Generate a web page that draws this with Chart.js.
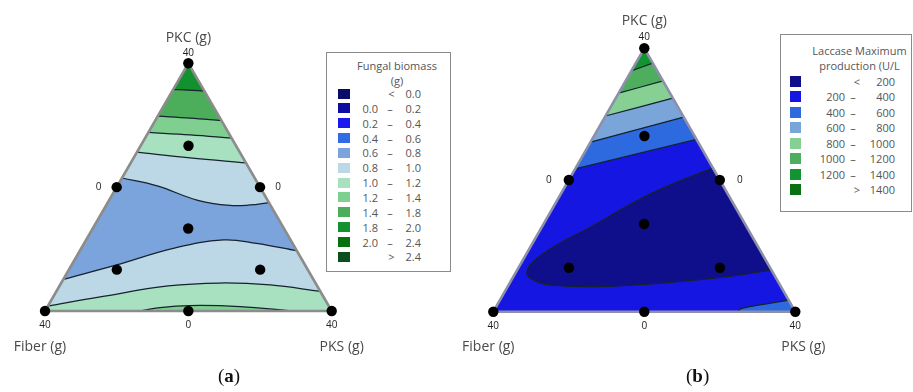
<!DOCTYPE html>
<html>
<head>
<meta charset="utf-8">
<title>Ternary contour plots</title>
<script src="https://cdn.jsdelivr.net/npm/chart.js@4.4.1/dist/chart.umd.min.js"></script>
<style>
  html, body { margin: 0; padding: 0; background: #fff; }
  body { position: relative; width: 913px; height: 392px; overflow: hidden; font-family: 'Open Sans', sans-serif; }
  canvas { position: absolute; top: 0; }
  #chartA { left: 0; }
  #chartB { left: 456px; }
  .box { position: absolute; box-sizing: border-box; border: 1px solid #8a8a8a; background: #fff; }
  .txt { position: absolute; white-space: nowrap; color: #555; font-size: 11px; line-height: 13px; }
  .sw { position: absolute; }
  .cap { position: absolute; top: 365px; font-family: 'Liberation Serif', serif; font-size: 19px; color: #111; }
</style>
</head>
<body>
<canvas id="chartA" width="456" height="392"></canvas>
<canvas id="chartB" width="457" height="392"></canvas>
<div id="legends"></div>
<div class="cap" style="left:218px">(<b>a</b>)</div>
<div class="cap" style="left:686px">(<b>b</b>)</div>
<script>
// compositions are [PKC, PKS] as fractions of the mix, Fiber is the rest
const designPoints = [
  [1, 0], [0, 0], [0, 1],
  [0.5, 0], [0.5, 0.5], [0, 0.5],
  [0.333, 0.333], [0.667, 0.167], [0.167, 0.167], [0.167, 0.667]
];
const axisNames = ['PKC (g)', 'Fiber (g)', 'PKS (g)'];
const cornerTicks = ['40', '40', '40'];
const edgeTicks = ['0', '0', '0'];

// (a) fungal biomass
const biomassTitle = ['Fungal biomass', '(g)'];
const biomassBreaks = ['0.0', '0.2', '0.4', '0.6', '0.8', '1.0', '1.2', '1.4', '1.8', '2.0', '2.4'];
const biomassColors = ['#0b0b6b', '#0d0da3', '#1a1aee', '#2f6ce6', '#7ba3dc', '#bcd7e6',
                       '#a7e1bf', '#7fcf90', '#4cae5a', '#12912e', '#07700f', '#0b4f1e'];
// contour lines from bottom to apex, and the legend class above each one
const biomassContours = [
  [[0.020, 0], [0.057, 0.164], [0.101, 0.379], [0.113, 0.553], [0.105, 0.733], [0.079, 0.921]],
  [[0.128, 0], [0.186, 0.157], [0.253, 0.321], [0.287, 0.479], [0.273, 0.601], [0.243, 0.757]],
  [[0.537, 0], [0.505, 0.139], [0.448, 0.306], [0.426, 0.432], [0.428, 0.501], [0.438, 0.562]],
  [[0.641, 0], [0.618, 0.197], [0.598, 0.402]],
  [[0.721, 0], [0.711, 0.151], [0.698, 0.302]],
  [[0.787, 0], [0.779, 0.116], [0.769, 0.231]],
  [[0.894, 0], [0.892, 0.053], [0.888, 0.112]]
];
const biomassAbove = [5, 4, 5, 6, 7, 8, 9];
const biomassBottomClass = 6;
const biomassLens = [[0, 0.331], [0.014, 0.394], [0.022, 0.495], [0.018, 0.671], [0, 0.862]];
const biomassLensClass = 7;

// (b) laccase
const laccaseTitle = ['Laccase Maximum', 'production (U/L'];
const laccaseBreaks = ['200', '400', '600', '800', '1000', '1200', '1400'];
const laccaseColors = ['#0f0f8c', '#1616e3', '#2d6ae0', '#7aa5d9', '#85d092', '#4fae5e', '#139433', '#0a7012'];
const laccaseContours = [
  [[0.542, 0], [0.654, 0.346]],
  [[0.644, 0], [0.739, 0.261]],
  [[0.743, 0], [0.811, 0.189]],
  [[0.830, 0], [0.876, 0.124]],
  [[0.914, 0], [0.944, 0.056]]
];
const laccaseAbove = [2, 3, 4, 5, 6];
const laccaseBottomClass = 1;
const laccaseMin = [[0.546, 0.454], [0.450, 0.300], [0.310, 0.149], [0.261, 0.091], [0.196, 0.040],
  [0.146, 0.038], [0.115, 0.084], [0.101, 0.142], [0.095, 0.284], [0.108, 0.498], [0.133, 0.707], [0.158, 0.842]];
const laccaseMinClass = 0;
const laccaseCorner = [[0, 0.810], [0.013, 0.816], [0.029, 0.885], [0.044, 0.956]];
const laccaseCornerClass = 2;

const corners = [[0, 0], [0, 1], [1, 0]]; // Fiber, PKS, PKC

function tern(c) { return { x: c[1] + c[0] / 2, y: c[0] }; }

function fillSet(pts, color, mode, tension) {
  return { data: pts.map(tern), fill: mode, backgroundColor: color, borderColor: 'rgba(0,0,0,0)',
           borderWidth: 0, pointRadius: 0, tension: tension };
}
function strokeSet(pts) {
  return { data: pts.map(tern), fill: false, borderColor: '#16222e', borderWidth: 1.25,
           pointRadius: 0, tension: 0.4 };
}
function frameSets(outline) {
  return [
    { data: corners.concat([corners[0]]).map(tern), fill: false, borderColor: outline, borderWidth: 2.6,
      pointRadius: 0, tension: 0, clip: false, unclipped: true },
    { data: designPoints.map(tern), showLine: false, pointRadius: 5.2, pointBackgroundColor: '#000',
      pointBorderWidth: 0, clip: false, unclipped: true }
  ];
}

const ternaryPlugin = {
  id: 'ternary',
  beforeDatasetsDraw(chart) {
    const { ctx, scales: { x, y } } = chart;
    ctx.save();
    ctx.beginPath();
    corners.map(tern).forEach((q, i) => {
      const X = x.getPixelForValue(q.x), Y = y.getPixelForValue(q.y);
      if (i) ctx.lineTo(X, Y); else ctx.moveTo(X, Y);
    });
    ctx.closePath();
    ctx.clip();
    chart.$clipped = true;
  },
  beforeDatasetDraw(chart, args) {
    if (chart.$clipped && chart.data.datasets[args.index].unclipped) {
      chart.ctx.restore();
      chart.$clipped = false;
    }
  },
  afterDatasetsDraw(chart, args, opts) {
    if (chart.$clipped) { chart.ctx.restore(); chart.$clipped = false; }
    const { ctx, scales: { x, y } } = chart;
    const o = opts.off;
    const at = (c, dx, dy) => { const q = tern(c); return [x.getPixelForValue(q.x) + dx, y.getPixelForValue(q.y) + dy]; };
    const put = (t, p, font, color) => {
      ctx.font = font; ctx.fillStyle = color;
      ctx.textAlign = 'center'; ctx.textBaseline = 'middle';
      ctx.fillText(t, p[0], p[1]);
    };
    ctx.save();
    const nameFont = "14px 'Open Sans'", tickFont = "10px 'Open Sans'";
    put(axisNames[0], at(corners[2], 0, o.apexName), nameFont, '#4a4a4a');
    put(axisNames[1], at(corners[0], o.fiberDx, o.baseName), nameFont, '#4a4a4a');
    put(axisNames[2], at(corners[1], o.pksDx, o.baseName), nameFont, '#4a4a4a');
    put(cornerTicks[0], at(corners[2], 0, o.apexTick), tickFont, '#222');
    put(cornerTicks[1], at(corners[0], 0, 14), tickFont, '#222');
    put(cornerTicks[2], at(corners[1], 0, 14), tickFont, '#222');
    put(edgeTicks[0], at([0.5, 0], -o.side, 0), tickFont, '#222');
    put(edgeTicks[1], at([0.5, 0.5], o.side, 0), tickFont, '#222');
    put(edgeTicks[2], at([0, 0.5], 0, 14), tickFont, '#222');
    ctx.restore();
  }
};

function makeChart(id, datasets, padding, off) {
  datasets.forEach((d, i) => { d.order = -i; d.type = 'line'; });
  return new Chart(document.getElementById(id), {
    type: 'line',
    data: { datasets: datasets },
    options: {
      responsive: false, animation: false, events: [], devicePixelRatio: 1,
      layout: { padding: padding },
      scales: {
        x: { type: 'linear', min: 0, max: 1, display: false },
        y: { type: 'linear', min: 0, max: 1, display: false }
      },
      plugins: { legend: { display: false }, tooltip: { enabled: false }, ternary: { off: off } }
    },
    plugins: [ternaryPlugin]
  });
}

// chart (a)
const setsA = [fillSet(corners, biomassColors[biomassBottomClass], 'shape', 0)];
biomassContours.forEach((c, i) => setsA.push(fillSet(c, biomassColors[biomassAbove[i]], 'end', 0.4)));
setsA.push(fillSet(biomassLens, biomassColors[biomassLensClass], 'start', 0.4));
biomassContours.forEach(c => setsA.push(strokeSet(c)));
setsA.push(strokeSet(biomassLens));
makeChart('chartA', setsA.concat(frameSets('#8c8c8c')),
  { left: 45, top: 63.3, right: 124.3, bottom: 81 },
  { apexName: -25, apexTick: -10, side: 18, baseName: 36, fiberDx: -5, pksDx: 10 });

// chart (b)
const setsB = [fillSet(corners, laccaseColors[laccaseBottomClass], 'shape', 0)];
laccaseContours.forEach((c, i) => setsB.push(fillSet(c, laccaseColors[laccaseAbove[i]], 'end', 0.4)));
setsB.push(fillSet(laccaseMin, laccaseColors[laccaseMinClass], 'shape', 0.4));
setsB.push(fillSet(laccaseCorner.concat([corners[1]]), laccaseColors[laccaseCornerClass], 'start', 0));
laccaseContours.forEach(c => setsB.push(strokeSet(c)));
setsB.push(strokeSet(laccaseMin));
setsB.push(strokeSet(laccaseCorner));
makeChart('chartB', setsB.concat(frameSets('#8d90a8')),
  { left: 37.3, top: 48.3, right: 117.7, bottom: 80.3 },
  { apexName: -27, apexTick: -11, side: 20, baseName: 35, fiberDx: -5, pksDx: 8 });

// legends
const host = document.getElementById('legends');
function el(cls, css, text) {
  const d = document.createElement('div');
  d.className = cls;
  d.style.cssText = css;
  if (text !== undefined) d.textContent = text;
  host.appendChild(d);
  return d;
}
function legend(title, breaks, colors, g) {
  el('box', `left:${g.box[0]}px;top:${g.box[1]}px;width:${g.box[2]}px;height:${g.box[3]}px`);
  title.forEach((t, i) => el('txt', `left:${g.titleX}px;top:${g.titleY[i] - 6.5}px;transform:translateX(-50%)`, t));
  colors.forEach((col, i) => {
    const yc = g.row0 + g.step * i;
    el('sw', `left:${g.swX}px;top:${yc - g.swH / 2}px;width:${g.swW}px;height:${g.swH}px;background:${col}`);
    const top = yc - 6.5;
    if (i === 0 || i === colors.length - 1) {
      el('txt', `left:${g.sign}px;top:${top}px;transform:translateX(-50%)`, i === 0 ? '<' : '>');
      el('txt', `left:${g.hi}px;top:${top}px;transform:translateX(-100%)`, i === 0 ? breaks[0] : breaks[breaks.length - 1]);
    } else {
      el('txt', `left:${g.lo}px;top:${top}px;transform:translateX(-100%)`, breaks[i - 1]);
      el('txt', `left:${g.dash}px;top:${top}px;transform:translateX(-50%)`, '–');
      el('txt', `left:${g.hi}px;top:${top}px;transform:translateX(-100%)`, breaks[i]);
    }
  });
}
legend(biomassTitle, biomassBreaks, biomassColors,
  { box: [326, 52, 125, 220], titleX: 397, titleY: [65, 80], row0: 93.5, step: 14.85,
    swX: 338, swW: 12, swH: 10, lo: 378, dash: 390, sign: 391.5, hi: 421 });
legend(laccaseTitle, laccaseBreaks, laccaseColors,
  { box: [780, 34, 132, 178], titleX: 859.5, titleY: [50.5, 65], row0: 81, step: 15.5,
    swX: 790, swW: 11, swH: 11, lo: 845, dash: 853, sign: 857, hi: 895 });
</script>
</body>
</html>
